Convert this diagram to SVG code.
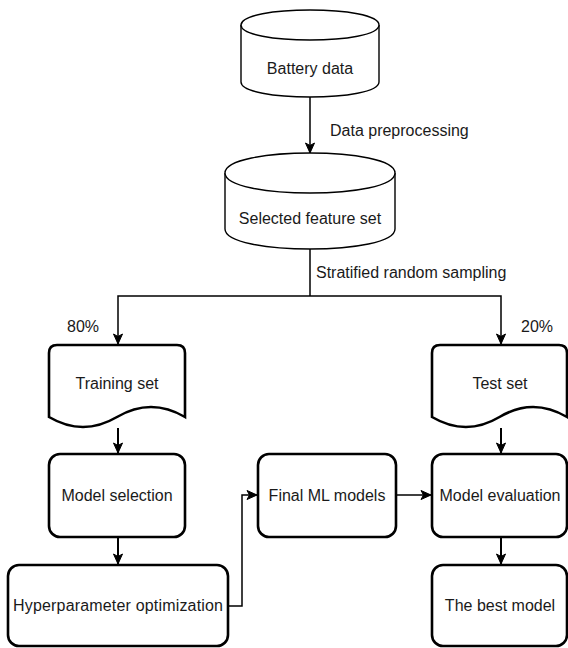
<svg xmlns="http://www.w3.org/2000/svg" width="568" height="648" viewBox="0 0 568 648">
<style>
.cyl{fill:#fff;stroke:#000;stroke-width:1.4}
.box{fill:#fff;stroke:#000;stroke-width:2.6}
.t{font-family:"Liberation Sans",Arial,sans-serif;font-size:16px;fill:#1a1a1a}
.m{text-anchor:middle}
.c{fill:none;stroke:#000;stroke-width:1.5}
.ct{fill:none;stroke:#000;stroke-width:2}
</style>
<defs>
<marker id="ah" markerUnits="userSpaceOnUse" markerWidth="12" markerHeight="12" refX="11" refY="6" orient="auto" viewBox="0 0 12 12">
<path d="M1,1.5 L11,6 L1,10.5 L3.5,6 Z" fill="#000" stroke="#000" stroke-width="1"/>
</marker>
</defs>
<g id="battery">
<path class="cyl" d="M241,25 C241,5 379,5 379,25 L379,82 C379,102 241,102 241,82 Z"/>
<path class="cyl" d="M241,25 C241,45 379,45 379,25" fill="none"/>
<text class="t m" x="310" y="74">Battery data</text>
</g>
<g id="selected">
<path class="cyl" d="M225,173 C225,146.33 395,146.33 395,173 L395,229 C395,255.67 225,255.67 225,229 Z"/>
<path class="cyl" d="M225,173 C225,199.67 395,199.67 395,173" fill="none"/>
<text class="t m" x="310" y="224">Selected feature set</text>
</g>
<g id="training">
<path class="box" d="M57,345 L177,345 Q185,345 185,353 L185,417 Q151,397 117,417 Q83,437 49,417 L49,353 Q49,345 57,345 Z"/>
<text class="t m" x="117" y="389">Training set</text>
</g>
<g id="test">
<path class="box" d="M440,345 L559,345 Q567,345 567,353 L567,417 Q533,397 499.5,417 Q466,437 432,417 L432,353 Q432,345 440,345 Z"/>
<text class="t m" x="500" y="389">Test set</text>
</g>
<g id="model-selection">
<rect class="box" x="49" y="454" width="136" height="83" rx="11"/>
<text class="t m" x="117" y="501">Model selection</text>
</g>
<g id="hyperparameter">
<rect class="box" x="8" y="565" width="220" height="81" rx="11"/>
<text class="t m" x="118" y="611" textLength="210">Hyperparameter optimization</text>
</g>
<g id="final-ml">
<rect class="box" x="258" y="454" width="138" height="83" rx="11"/>
<text class="t m" x="327" y="501">Final ML models</text>
</g>
<g id="model-evaluation">
<rect class="box" x="432" y="454" width="135" height="83" rx="11"/>
<text class="t m" x="500" y="501">Model evaluation</text>
</g>
<g id="best-model">
<rect class="box" x="432" y="565" width="135" height="81" rx="11"/>
<text class="t m" x="500" y="611">The best model</text>
</g>
<g id="connectors">
<path class="c" d="M310,97 L310,153" marker-end="url(#ah)"/>
<text class="t" x="330" y="136">Data preprocessing</text>
<path class="c" d="M310,249 L310,296"/>
<path class="c" d="M310,296 L118,296 L118,344" marker-end="url(#ah)"/>
<path class="c" d="M310,296 L501,296 L501,344" marker-end="url(#ah)"/>
<text class="t" x="316" y="278">Stratified random sampling</text>
<text class="t m" x="83" y="332">80%</text>
<text class="t m" x="537" y="332">20%</text>
<path class="ct" d="M118,428 L118,453" marker-end="url(#ah)"/>
<path class="ct" d="M118,537 L118,564" marker-end="url(#ah)"/>
<path class="c" d="M228,606 L242,606 L242,495 L257,495" marker-end="url(#ah)"/>
<path class="c" d="M396,495 L431,495" marker-end="url(#ah)"/>
<path class="ct" d="M501,428 L501,453" marker-end="url(#ah)"/>
<path class="ct" d="M501,537 L501,564" marker-end="url(#ah)"/>
</g>
</svg>
